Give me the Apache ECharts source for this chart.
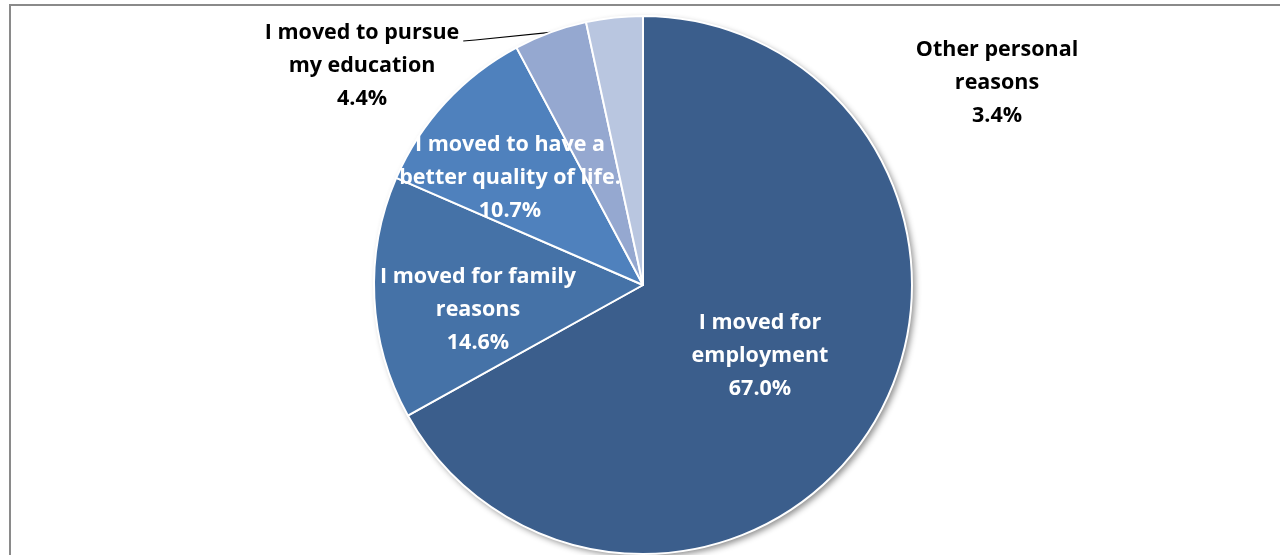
<!DOCTYPE html>
<html>
<head>
<meta charset="utf-8">
<script src="https://cdn.jsdelivr.net/npm/echarts@6/dist/echarts.min.js"></script>
<style>
  html, body { margin: 0; padding: 0; background: #ffffff; }
  #chart { width: 1280px; height: 555px; }
</style>
</head>
<body>
<div id="chart"></div>
<script>
// Reasons for moving (share of respondents, %)
const categories = [
  'I moved for employment',
  'I moved for family reasons',
  'I moved to have a better quality of life.',
  'I moved to pursue my education',
  'Other personal reasons'
];
const shares = [67.0, 14.6, 10.7, 4.4, 3.4];
// Line-broken label text for each slice
const labelLines = [
  ['I moved for', 'employment'],
  ['I moved for family', 'reasons'],
  ['I moved to have a', 'better quality of life.'],
  ['I moved to pursue', 'my education'],
  ['Other personal', 'reasons']
];

const sliceColors = ['#3B5E8C', '#4572A7', '#4F81BD', '#95A8D0', '#B9C6E0'];
const inside = [true, true, true, false, false];
// label anchor points (centre of each label block)
const labelAnchor = [
  [760, 356],
  [478, 310],
  [510, 178],
  [362, 66],
  [997, 83]
];

const CENTER = [643, 285];
const RADIUS = 269;
const FONT = '"Open Sans", Lato, "Liberation Sans", sans-serif';
const FONT_SIZE = 21.5;
const LINE_H = 33;

const pieData = categories.map((name, i) => ({
  name,
  value: shares[i],
  itemStyle: { color: sliceColors[i] },
  label: {
    color: inside[i] ? '#ffffff' : '#000000'
  },
  labelLine: { show: i === 3 }
}));

const chart = echarts.init(document.getElementById('chart'), null, { renderer: 'canvas' });
chart.setOption({
  backgroundColor: '#ffffff',
  animation: false,
  graphic: [{
    type: 'rect',
    shape: { x: 10, y: 5, width: 1300, height: 600 },
    style: { fill: 'none', stroke: '#8a8a8a', lineWidth: 2 },
    silent: true,
    z: 0
  }],
  series: [
    {
      // soft drop shadow under the whole disc
      type: 'pie',
      silent: true,
      center: CENTER,
      radius: RADIUS,
      z: 1,
      label: { show: false },
      labelLine: { show: false },
      data: [{
        value: 1,
        itemStyle: {
          color: '#ffffff',
          shadowBlur: 6,
          shadowColor: 'rgba(0,0,0,0.45)',
          shadowOffsetX: 3,
          shadowOffsetY: 3
        }
      }]
    },
    {
      type: 'pie',
      center: CENTER,
      radius: RADIUS,
      startAngle: 90,
      clockwise: true,
      z: 2,
      itemStyle: { borderColor: '#ffffff', borderWidth: 2 },
      label: {
        show: true,
        position: 'outside',
        fontFamily: FONT,
        fontWeight: 'bold',
        fontSize: FONT_SIZE,
        lineHeight: LINE_H,
        align: 'center',
        formatter: p => labelLines[p.dataIndex].join('\n') + '\n' + shares[p.dataIndex].toFixed(1) + '%'
      },
      labelLine: {
        show: true,
        length: 4,
        length2: 0,
        lineStyle: { color: '#000000', width: 1.2 }
      },
      labelLayout: p => {
        const [cx, cy] = labelAnchor[p.dataIndex];
        const out = { x: cx, y: cy, align: 'center', verticalAlign: 'middle' };
        const pts = p.labelLinePoints;
        if (pts && pts.length) {
          // leader runs from the slice rim to the end of the first text line
          const endX = cx + p.labelRect.width / 2 + 4;
          const endY = cy - LINE_H + 8;
          out.labelLinePoints = [pts[0], [endX + 12, endY - 1], [endX, endY]];
        }
        return out;
      },
      emphasis: { disabled: true },
      data: pieData
    }
  ]
});
</script>
</body>
</html>
